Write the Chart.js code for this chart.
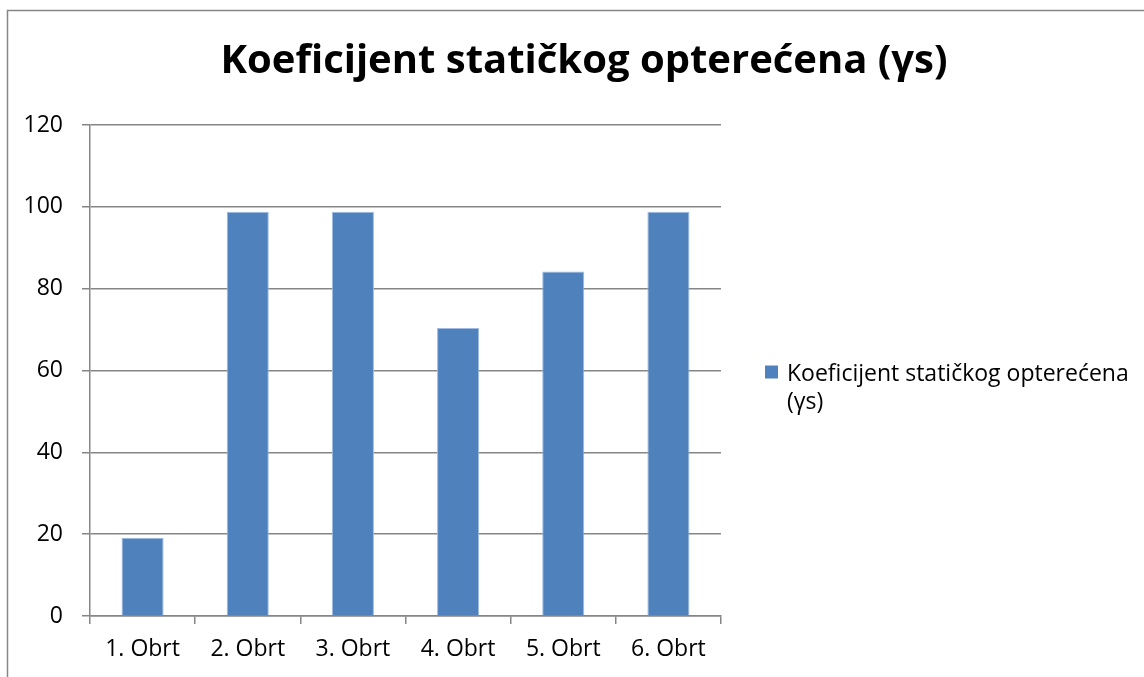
<!DOCTYPE html>
<html>
<head>
<meta charset="utf-8">
<script src="https://cdn.jsdelivr.net/npm/chart.js@4"></script>
<style>
  html, body { margin: 0; padding: 0; background: #fff; overflow: hidden; }
  #wrap { width: 1144px; height: 677px; position: relative; }
</style>
</head>
<body>
<div id="wrap"><canvas id="chart"></canvas></div>
<script>
const categories = ["1. Obrt", "2. Obrt", "3. Obrt", "4. Obrt", "5. Obrt", "6. Obrt"];
const seriesName = "Koeficijent statičkog opterećena (γs)";
const values = [19.1, 98.8, 98.8, 70.4, 84.2, 98.8];
const yTicks = [0, 20, 40, 60, 80, 100, 120];

const FONT = "'Open Sans', sans-serif";
const GRID = "#868686";
const BAR = "#4F81BD";

// outer frame of the excel chart object
const framePlugin = {
  id: "frame",
  beforeDraw(chart) {
    const ctx = chart.ctx;
    ctx.save();
    ctx.strokeStyle = GRID;
    ctx.lineWidth = 1.5;
    ctx.strokeRect(7.5, 10.5, chart.width + 20, chart.height + 20);
    ctx.restore();
  }
};

// legend on the right, text wraps like excel does
const wrapLegend = {
  id: "wrapLegend",
  afterDraw(chart) {
    const ctx = chart.ctx;
    const area = chart.chartArea;
    const boxX = area.right + 44;
    const textX = boxX + 22;
    const maxW = chart.width - textX - 4;
    ctx.save();
    ctx.font = "23px " + FONT;
    let lines = [];
    let cur = "";
    seriesName.split(" ").forEach(w => {
      const test = cur ? cur + " " + w : w;
      if (ctx.measureText(test).width > maxW && cur) {
        lines.push(cur);
        cur = w;
      } else {
        cur = test;
      }
    });
    lines.push(cur);
    const lh = 28;
    const midY = (area.top + area.bottom) / 2;
    const firstBase = midY + 10;
    ctx.fillStyle = BAR;
    ctx.fillRect(boxX, firstBase - 15, 13, 13);
    ctx.fillStyle = "#000";
    ctx.textBaseline = "alphabetic";
    lines.forEach((l, i) => ctx.fillText(l, textX, firstBase + i * lh));
    ctx.restore();
  }
};

new Chart(document.getElementById("chart"), {
  type: "bar",
  data: {
    labels: categories,
    datasets: [
      {
        label: seriesName,
        data: values,
        backgroundColor: BAR,
        borderColor: "#9dbbe3",
        borderWidth: 1,
        barPercentage: 0.4,
        categoryPercentage: 1.0,
      },
    ],
  },
  options: {
    responsive: true,
    maintainAspectRatio: false,
    animation: false,
    layout: {
      padding: { top: 22, left: 24, right: 0, bottom: 0 },
    },
    scales: {
      x: {
        grid: {
          display: true,
          drawOnChartArea: false,
          drawTicks: true,
          tickLength: 8,
          color: GRID,
          lineWidth: 1.5,
        },
        border: { display: true, color: GRID, width: 1.5 },
        ticks: {
          color: "#000",
          font: { family: FONT, size: 23 },
          padding: 12,
        },
        afterFit: (s) => { s.height = 61; },
      },
      y: {
        min: 0,
        max: 120,
        afterBuildTicks: (s) => { s.ticks = yTicks.map(v => ({ value: v })); },
        grid: {
          color: GRID,
          lineWidth: 1.5,
          tickLength: 8,
        },
        border: { display: true, color: GRID, width: 1.5 },
        ticks: {
          color: "#000",
          font: { family: FONT, size: 23 },
          padding: 19,
        },
        afterFit: (s) => { s.width = 66; },
      },
      // empty right-hand axis keeps room for the legend
      legendSpace: {
        type: "linear",
        position: "right",
        display: true,
        grid: { display: false },
        border: { display: false },
        ticks: { display: false },
        afterFit: (s) => { s.width = 423; },
      },
    },
    plugins: {
      legend: { display: false },
      tooltip: { enabled: false },
      title: {
        display: true,
        text: seriesName,
        color: "#000",
        font: { family: FONT, size: 40, weight: "bold" },
        padding: { top: 16, bottom: 39 },
      },
    },
  },
  plugins: [framePlugin, wrapLegend],
});
</script>
</body>
</html>
